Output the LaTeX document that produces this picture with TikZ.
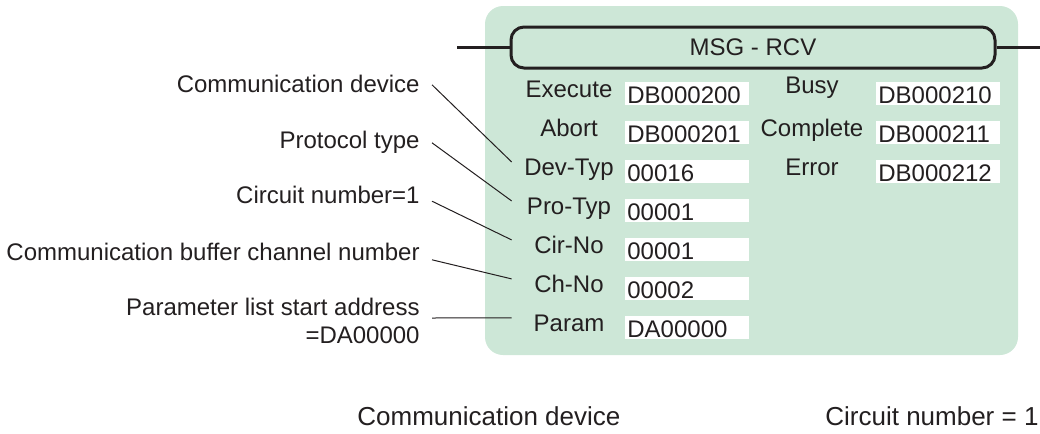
\documentclass[tikz,border=0pt]{standalone}
\usepackage{fontspec}
\setmainfont{Liberation Sans}
\usepackage{xcolor}
\definecolor{PanelGreen}{HTML}{CDE7D7}
\definecolor{InkDark}{HTML}{231F20}
\usetikzlibrary{positioning}

\begin{document}
\begin{tikzpicture}[
    x=0.5pt, y=-0.5pt,
    txt/.style={font=\fontsize{12}{14}\selectfont, text=InkDark, inner sep=0pt},
    note/.style={txt, anchor=base east, align=right},
    foot/.style={txt, font=\fontsize{13}{15}\selectfont, anchor=base west},
    lab/.style={
      txt, anchor=base, yshift=-1.75pt,
      minimum width=57pt, text height=8.8pt, text depth=2.5pt
    },
    val/.style={
      txt, anchor=west, fill=white,
      inner xsep=1pt, inner ysep=0.25pt,
      text width=60pt, align=left,
      text height=10.5pt, text depth=0.5pt
    },
    title/.style={
      txt, draw=InkDark, line width=1.5pt, rounded corners=6.5pt,
      minimum width=242pt, minimum height=20.5pt
    },
    bus/.style={line width=1.5pt, InkDark},
    lead/.style={line width=0.5pt, InkDark}
  ]
  \useasboundingbox (0,0) rectangle (1040,434);

  % instruction panel
  \fill[PanelGreen, rounded corners=9pt] (485,6) rectangle (1018,355);

  \node[title] (msg) at (753,47.5) {MSG\;-\;RCV};
  \coordinate (busin) at (457,47.5);
  \coordinate (busout) at (1040,47.5);
  \draw[bus] (busin) -- (msg.west);
  \draw[bus] (msg.east) -- (busout);

  % operands
  \node[lab] (execute) at (569,93.5) {Execute};
  \node[val] (dbexec) at (625,93.5) {DB000200};
  \node[lab, yshift=2pt] (busy) at (812,93.5) {Busy};
  \node[val] (dbbusy) at (876,93.5) {DB000210};

  \node[lab] (abort) at (569,132.5) {Abort};
  \node[val] (dbabort) at (625,132.5) {DB000201};
  \node[lab] (complete) at (812,132.5) {Complete};
  \node[val] (dbcompl) at (876,132.5) {DB000211};

  \node[lab] (devtyp) at (569,171.5) {Dev-Typ};
  \node[val] (devval) at (625,171.5) {00016};
  \node[lab] (error) at (812,171.5) {Error};
  \node[val] (dberror) at (876,171.5) {DB000212};

  \node[lab] (protyp) at (569,210.5) {Pro-Typ};
  \node[val] (proval) at (625,210.5) {00001};

  \node[lab] (cirno) at (569,249.5) {Cir-No};
  \node[val] (cirval) at (625,249.5) {00001};

  \node[lab] (chno) at (569,288.5) {Ch-No};
  \node[val] (chval) at (625,288.5) {00002};

  \node[lab] (param) at (569,327.5) {Param};
  \node[val] (parval) at (625,327.5) {DA00000};

  % explanations
  \node[note] (commdev) at (420,92.5) {Communication device};
  \node[note] (prottype) at (420,148.5) {Protocol type};
  \node[note] (circnum) at (420,203.5) {Circuit number=1};
  \node[note] (bufch) at (420,260.5) {Communication buffer channel number};
  \node[note] (paraddr) at (420,343) {Parameter list start address\\=DA00000};

  \draw[lead] ([shift={(6pt,3.85pt)}]commdev.base east) -- ([yshift=3.4pt]devtyp.west);
  \draw[lead] ([shift={(6pt,2.85pt)}]prottype.base east) -- ([yshift=3.4pt]protyp.west);
  \draw[lead] ([shift={(6pt,1.15pt)}]circnum.base east) -- ([yshift=3.4pt]cirno.west);
  \draw[lead] ([shift={(6pt,0.35pt)}]bufch.base east) -- ([yshift=3.4pt]chno.west);
  \draw[lead] ([shift={(6pt,12.5pt)}]paraddr.base east) -- ([yshift=3.4pt]param.west);

  \node[foot] (devfoot) at (357,425) {Communication device};
  \node[foot] (circfoot) at (825,425) {Circuit number = 1};
\end{tikzpicture}
\end{document}
